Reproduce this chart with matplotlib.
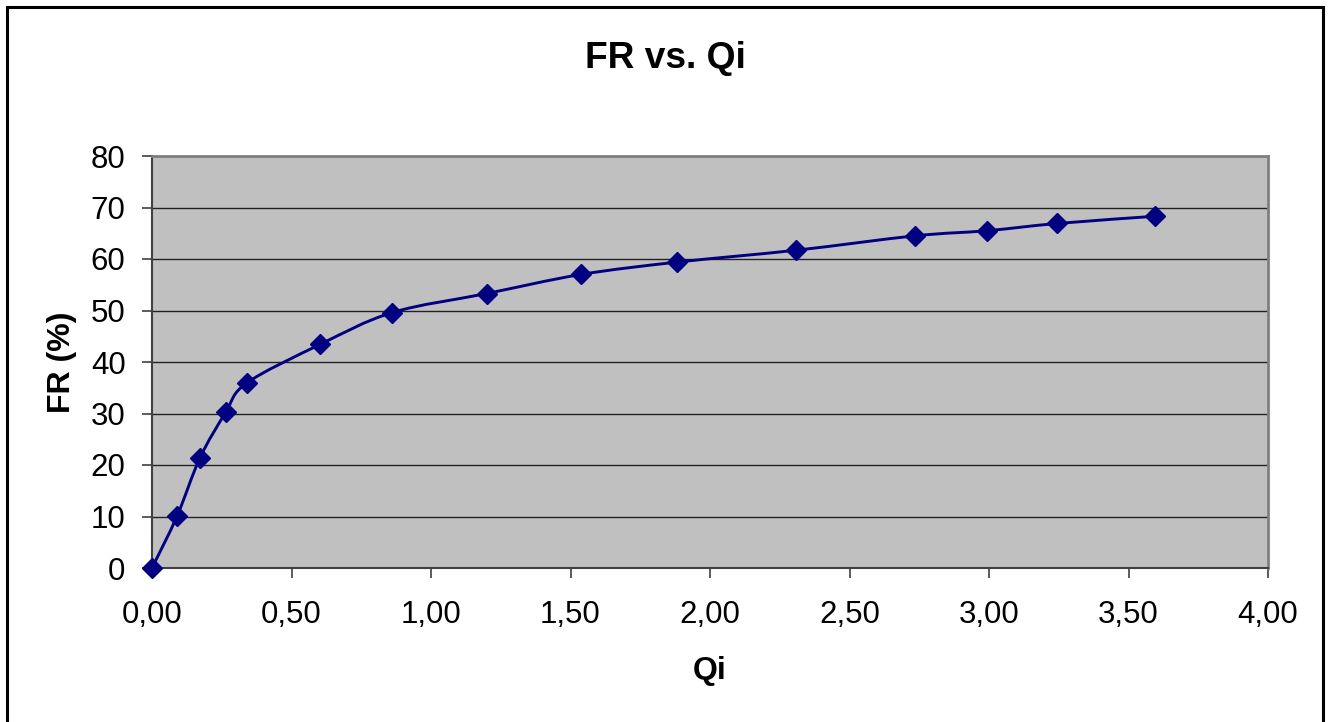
import matplotlib
matplotlib.use('Agg')
import matplotlib.pyplot as plt
from matplotlib.path import Path
from matplotlib.patches import PathPatch, Rectangle
from matplotlib.ticker import FuncFormatter, MultipleLocator
import numpy as np

plt.rcParams['font.family'] = ['Liberation Sans', 'DejaVu Sans']

# data
qi = [0.00, 0.09, 0.172, 0.264, 0.339, 0.602, 0.861, 1.20, 1.538, 1.883,
      2.308, 2.735, 2.994, 3.245, 3.595]
fr = [0.0, 10.1, 21.4, 30.2, 35.9, 43.4, 49.6, 53.3, 57.0, 59.4,
      61.7, 64.5, 65.5, 66.9, 68.3]

title = 'FR vs. Qi'
xlabel = 'Qi'
ylabel = 'FR (%)'
navy = '#000080'


def smooth_path(xs, ys, t=1/6):
    # Catmull-Rom style bezier through the points (like Excel "smoothed line")
    pts = np.column_stack([xs, ys])
    verts = [pts[0]]
    codes = [Path.MOVETO]
    n = len(pts)
    for i in range(n - 1):
        p0 = pts[i - 1] if i > 0 else pts[i]
        p1 = pts[i]
        p2 = pts[i + 1]
        p3 = pts[i + 2] if i + 2 < n else pts[i + 1]
        c1 = p1 + (p2 - p0) * t
        c2 = p2 - (p3 - p1) * t
        verts += [c1, c2, p2]
        codes += [Path.CURVE4] * 3
    return Path(verts, codes)


fig = plt.figure(figsize=(13.3, 7.22), dpi=100)
ax = fig.add_axes([152/1330, 1 - 568/722, (1268-152)/1330, (568-156)/722])
ax.set_facecolor('#c0c0c0')

ax.add_patch(PathPatch(smooth_path(qi, fr), facecolor='none', edgecolor=navy,
                       lw=2.1, zorder=3))
ax.plot(qi, fr, linestyle='none', marker='D', markersize=10.5, color=navy,
        zorder=4, clip_on=False)

ax.set_xlim(0, 4)
ax.set_ylim(0, 80)
ax.xaxis.set_major_locator(MultipleLocator(0.5))
ax.yaxis.set_major_locator(MultipleLocator(10))
ax.xaxis.set_major_formatter(FuncFormatter(lambda v, p: f'{v:.2f}'.replace('.', ',')))
ax.yaxis.set_major_formatter(FuncFormatter(lambda v, p: f'{v:.0f}'))
ax.grid(axis='y', color='#222222', lw=1.0)
ax.set_axisbelow(True)

for s in ['top', 'right']:
    ax.spines[s].set_color('#808080')
    ax.spines[s].set_linewidth(2)
for s in ['left', 'bottom']:
    ax.spines[s].set_color('#404040')
    ax.spines[s].set_linewidth(1.5)

ax.tick_params(axis='both', direction='out', length=7, width=1.2, color='#404040',
               labelsize=22.5)
ax.tick_params(axis='x', pad=16)
ax.tick_params(axis='y', pad=12)

ax.set_xlabel(xlabel, fontsize=23, fontweight='bold', labelpad=19)
ax.set_ylabel(ylabel, fontsize=23, fontweight='bold', labelpad=10)
fig.text(0.5, 1 - 58/722, title, fontsize=26.7, fontweight='bold',
         ha='center', va='center')

fig.patches.append(Rectangle((7/1330, -0.05), (1323-7)/1330, 1.05 - 7/722,
                             transform=fig.transFigure, fill=False,
                             edgecolor='black', lw=2.2))

fig.savefig('out.png', dpi=100)
